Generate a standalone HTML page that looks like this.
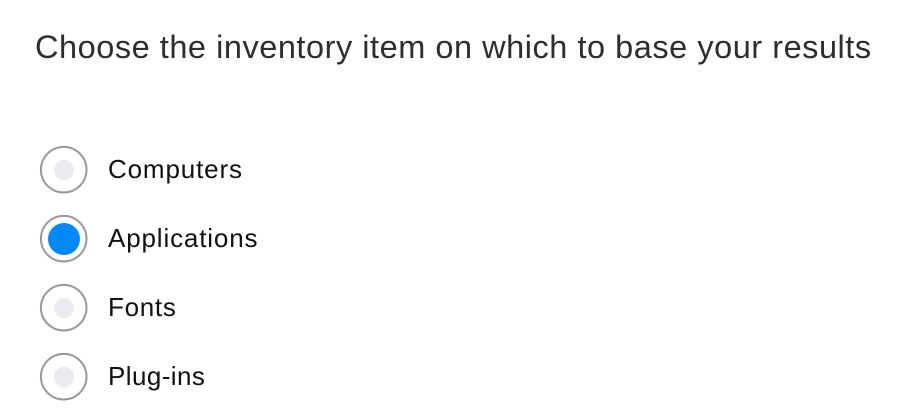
<!DOCTYPE html>
<html>
<head>
<meta charset="utf-8">
<style>
html,body{margin:0;padding:0;width:918px;height:410px;background:#fff;overflow:hidden;font-family:"Liberation Sans",sans-serif}
.t{position:absolute;white-space:nowrap}
.title{left:35px;top:27px;font-size:32.5px;line-height:40px;color:#2e2e2e;letter-spacing:.53px}
.l{left:108px;font-size:26px;line-height:32px;color:#111}
svg{position:absolute;left:0;top:0}
</style>
</head>
<body>
<svg width="918" height="410" viewBox="0 0 918 410">
<g fill="#fff" stroke="#999" stroke-width="2">
<circle cx="63.7" cy="169.7" r="22.8"/>
<circle cx="63.7" cy="238.7" r="22.8"/>
<circle cx="63.7" cy="307.7" r="22.8"/>
<circle cx="63.7" cy="376.7" r="22.8"/>
</g>
<g fill="#e8ecf1">
<circle cx="64" cy="170" r="10"/>
<circle cx="64" cy="308" r="10"/>
<circle cx="64" cy="377" r="10"/>
</g>
<circle cx="64" cy="239" r="16" fill="#0088ff"/>
</svg>
<div class="t title">Choose the inventory item on which to base your results</div>
<div class="t l" style="top:153px;letter-spacing:.85px">Computers</div>
<div class="t l" style="top:222px;letter-spacing:.85px">Applications</div>
<div class="t l" style="top:291px;letter-spacing:.7px">Fonts</div>
<div class="t l" style="top:360px;letter-spacing:.42px">Plug-ins</div>
</body>
</html>
